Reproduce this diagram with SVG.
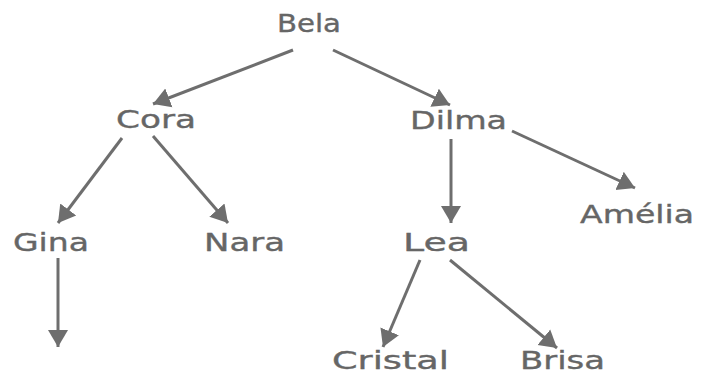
<svg xmlns="http://www.w3.org/2000/svg" width="711" height="374" viewBox="0 0 711 374">
<defs>
<style>
.lbl{font-family:"DejaVu Sans","Verdana",sans-serif;font-size:24px;fill:#666666;stroke:#666666;stroke-width:0.35;}
.edge{stroke:#6e6e6e;stroke-width:3;fill:none;marker-end:url(#ah);}
</style>
<marker id="ah" markerUnits="userSpaceOnUse" markerWidth="18" markerHeight="22" refX="17" refY="11" orient="auto">
<path d="M0,1 L17,11 L0,21 z" fill="#6e6e6e"/>
</marker>
</defs>
<rect width="711" height="374" fill="#ffffff"/>
<g id="connectors">
<line class="edge" x1="293" y1="50" x2="153" y2="104"/>
<line class="edge" x1="333" y1="50" x2="450" y2="105"/>
<line class="edge" x1="512" y1="131" x2="635" y2="188"/>
<line class="edge" x1="451" y1="139" x2="451" y2="223"/>
<line class="edge" x1="122" y1="138" x2="58" y2="223"/>
<line class="edge" x1="153" y1="136" x2="228" y2="223"/>
<line class="edge" x1="58" y1="258" x2="58" y2="347"/>
<line class="edge" x1="420" y1="260" x2="383" y2="347"/>
<line class="edge" x1="450" y1="260" x2="557" y2="348"/>
</g>
<g id="node-bela"><text class="lbl" x="277" y="32" textLength="64" lengthAdjust="spacingAndGlyphs">Bela</text></g>
<g id="node-cora"><text class="lbl" x="116" y="128" textLength="80" lengthAdjust="spacingAndGlyphs">Cora</text></g>
<g id="node-dilma"><text class="lbl" x="410" y="129" textLength="97" lengthAdjust="spacingAndGlyphs">Dilma</text></g>
<g id="node-amelia"><text class="lbl" x="580" y="223" textLength="114" lengthAdjust="spacingAndGlyphs">Amélia</text></g>
<g id="node-gina"><text class="lbl" x="13" y="251" textLength="76" lengthAdjust="spacingAndGlyphs">Gina</text></g>
<g id="node-nara"><text class="lbl" x="204" y="251" textLength="81" lengthAdjust="spacingAndGlyphs">Nara</text></g>
<g id="node-lea"><text class="lbl" x="403" y="251" textLength="67" lengthAdjust="spacingAndGlyphs">Lea</text></g>
<g id="node-cristal"><text class="lbl" x="332" y="369" textLength="117" lengthAdjust="spacingAndGlyphs">Cristal</text></g>
<g id="node-brisa"><text class="lbl" x="520" y="369" textLength="85" lengthAdjust="spacingAndGlyphs">Brisa</text></g>
</svg>
